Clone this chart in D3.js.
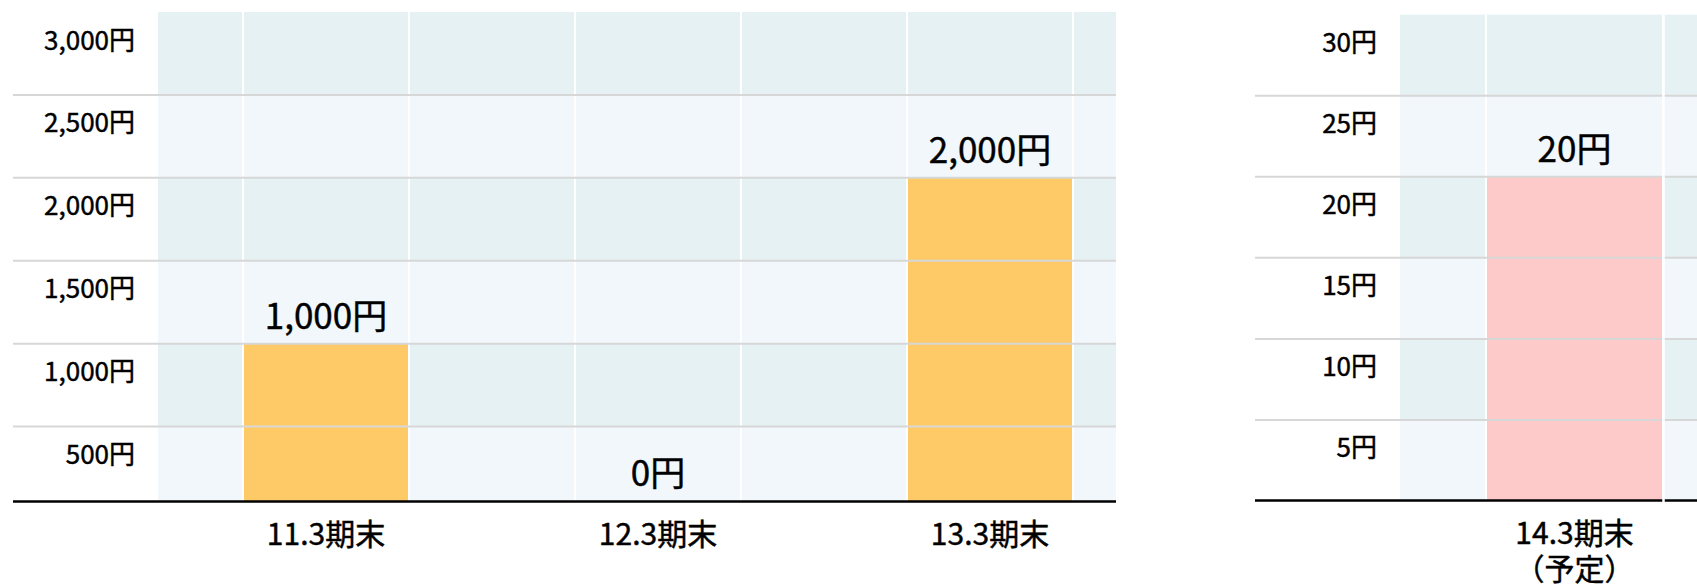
<!DOCTYPE html>
<html>
<head>
<meta charset="utf-8">
<script src="https://cdn.jsdelivr.net/npm/d3@7"></script>
<style>
  html, body { margin: 0; padding: 0; background: #ffffff; overflow: hidden; }
  svg { display: block; }
  text {
    font-family: "Noto Sans CJK JP", "Noto Sans", sans-serif;
    fill: #000;
    stroke: #000;
    stroke-width: 0.45px;
    font-weight: 400;
  }
</style>
</head>
<body>
<svg id="chart" width="1697" height="586"></svg>
<script>
// 1株当たり配当金（実績）
const categories = ["11.3期末", "12.3期末", "13.3期末"];
const dividends = [1000, 0, 2000];
const yTicks = [500, 1000, 1500, 2000, 2500, 3000];

// 1株当たり配当金（予定）
const forecastCategories = ["14.3期末"];
const forecastNotes = ["（予定）"];
const forecastDividends = [20];
const forecastTicks = [5, 10, 15, 20, 25, 30];

const svg = d3.select("#chart");
const yen = d => d3.format(",")(d) + "円";

function drawPanel(cfg) {
  const g = svg.append("g");

  const x = d3.scaleBand().domain(cfg.categories).range(cfg.bandRange).padding(0);
  const step = x.bandwidth();
  const cx = d => x(d) + step / 2;

  const y = d3.scaleLinear().domain([0, d3.max(cfg.ticks)]).range([cfg.zeroY, cfg.top]);
  const yTop = y(d3.max(cfg.ticks));

  // alternating row shading between tick values
  const bounds = [0, ...cfg.ticks];
  const rows = d3.range(bounds.length - 1).map(i => ({ lo: bounds[i], hi: bounds[i + 1], i }));
  g.selectAll("rect.row").data(rows).join("rect")
    .attr("class", "row")
    .attr("x", cfg.plotLeft)
    .attr("width", cfg.plotRight - cfg.plotLeft)
    .attr("y", d => y(d.hi))
    .attr("height", d => Math.min(y(d.lo), cfg.bottom) - y(d.hi))
    .attr("fill", d => d.i % 2 === 0 ? "#f1f7fa" : "#e6f1f3");

  // white column dividers
  const dividers = cfg.categories.flatMap(c => [cx(c) - step / 4, cx(c) + step / 4]);
  g.selectAll("line.div").data(dividers).join("line")
    .attr("class", "div")
    .attr("x1", d => d).attr("x2", d => d)
    .attr("y1", yTop).attr("y2", cfg.bottom)
    .attr("stroke", "#ffffff").attr("stroke-width", 2);

  // bars
  const data = cfg.categories.map((c, i) => ({ c, v: cfg.values[i] }));
  const barW = step / 2 - 2;
  g.selectAll("rect.bar").data(data).join("rect")
    .attr("class", "bar")
    .attr("x", d => cx(d.c) - barW / 2)
    .attr("width", barW)
    .attr("y", d => Math.min(y(d.v), cfg.bottom))
    .attr("height", d => Math.max(0, cfg.bottom - y(d.v)))
    .attr("fill", cfg.barColor);

  // horizontal grid lines
  const gridTicks = cfg.ticks.filter(t => t !== d3.max(cfg.ticks));
  g.selectAll("line.grid").data(gridTicks).join("line")
    .attr("class", "grid")
    .attr("x1", cfg.axisStart).attr("x2", cfg.plotRight)
    .attr("y1", d => y(d)).attr("y2", d => y(d))
    .attr("stroke", "#d7d7d7").attr("stroke-width", 2);

  // baseline
  g.append("line")
    .attr("x1", cfg.axisStart).attr("x2", cfg.plotRight)
    .attr("y1", cfg.bottom + 0.5).attr("y2", cfg.bottom + 0.5)
    .attr("stroke", "#000").attr("stroke-width", 2.5);

  if (cfg.cutAfterBar) {
    g.selectAll("line.cut").data(data).join("line")
      .attr("class", "cut")
      .attr("x1", d => cx(d.c) + step / 4 + 0.5).attr("x2", d => cx(d.c) + step / 4 + 0.5)
      .attr("y1", yTop).attr("y2", cfg.bottom + 3)
      .attr("stroke", "#ffffff").attr("stroke-width", 2.5);
  }

  // y axis labels
  const yAxis = g.append("g")
    .attr("transform", `translate(${cfg.labelRight},0)`)
    .call(d3.axisLeft(y).tickValues(cfg.ticks).tickSize(0).tickPadding(0).tickFormat(yen));
  yAxis.select(".domain").remove();
  yAxis.attr("font-family", null).attr("font-size", null);
  yAxis.selectAll("text")
    .attr("dy", null).attr("y", 37)
    .style("font-size", "26px");

  // x axis labels
  const xAxis = g.append("g")
    .attr("transform", `translate(0,${cfg.bottom})`)
    .call(d3.axisBottom(x).tickSize(0).tickPadding(0));
  xAxis.select(".domain").remove();
  xAxis.attr("font-family", null).attr("font-size", null);
  xAxis.selectAll("text")
    .attr("dy", null).attr("y", 44)
    .style("font-size", "30px");
  if (cfg.notes) {
    xAxis.selectAll(".tick").each(function(d, i) {
      d3.select(this).append("text")
        .attr("y", 80)
        .attr("text-anchor", "middle")
        .style("font-size", "30px")
        .text(cfg.notes[i]);
    });
  }

  // value labels
  g.selectAll("text.val").data(data).join("text")
    .attr("class", "val")
    .attr("x", d => cx(d.c))
    .attr("y", d => Math.min(y(d.v), cfg.bottom) - 15)
    .attr("text-anchor", "middle")
    .style("font-size", "35px")
    .text(d => yen(d.v));
}

drawPanel({
  categories: categories,
  values: dividends,
  ticks: yTicks,
  bandRange: [160, 1156],
  plotLeft: 158, plotRight: 1116,
  axisStart: 13, labelRight: 135,
  top: 12, bottom: 501, zeroY: 509.5,
  barColor: "#fdca67"
});

drawPanel({
  categories: forecastCategories,
  notes: forecastNotes,
  values: forecastDividends,
  ticks: forecastTicks,
  bandRange: [1397.5, 1751.5],
  plotLeft: 1400, plotRight: 1760,
  axisStart: 1255, labelRight: 1377,
  top: 14.7, bottom: 500, zeroY: 501,
  barColor: "#fdc9c9",
  cutAfterBar: true
});
</script>
</body>
</html>
